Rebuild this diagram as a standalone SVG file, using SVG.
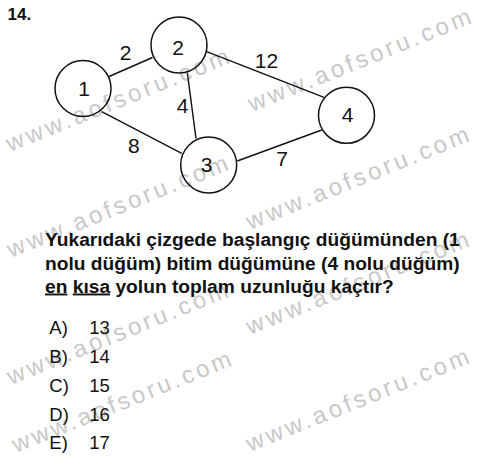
<svg xmlns="http://www.w3.org/2000/svg" width="500" height="457" viewBox="0 0 500 457">
<style>
.wm{font-family:"Liberation Sans",Arial,sans-serif;font-size:24px;fill:#c8c8c8}
.edge{stroke:#111;stroke-width:1.4;fill:none}
.node circle{fill:none;stroke:#111;stroke-width:1.5}
.lbl{font-family:"Liberation Sans",Arial,sans-serif;font-size:21px;fill:#111;text-anchor:middle}
.q{font-family:"Liberation Sans",Arial,sans-serif;font-size:19.2px;font-weight:bold;fill:#111}
.ans{font-family:"Liberation Sans",Arial,sans-serif;font-size:18.5px;fill:#111}
</style>
<rect width="500" height="457" fill="#fff"/>
<g id="watermarks">
<text class="wm" transform="translate(10,152) rotate(-22)" textLength="238" lengthAdjust="spacing">www.aofsoru.com</text>
<text class="wm" transform="translate(252,112) rotate(-22)" textLength="238" lengthAdjust="spacing">www.aofsoru.com</text>
<text class="wm" transform="translate(250,230) rotate(-22)" textLength="238" lengthAdjust="spacing">www.aofsoru.com</text>
<text class="wm" transform="translate(11,258) rotate(-22)" textLength="236" lengthAdjust="spacing">www.aofsoru.com</text>
<text class="wm" transform="translate(11,385) rotate(-22)" textLength="236" lengthAdjust="spacing">www.aofsoru.com</text>
<text class="wm" transform="translate(250,335) rotate(-22)" textLength="238" lengthAdjust="spacing">www.aofsoru.com</text>
<text class="wm" transform="translate(16,453) rotate(-22)" textLength="234" lengthAdjust="spacing">www.aofsoru.com</text>
<text class="wm" transform="translate(250,452) rotate(-22)" textLength="238" lengthAdjust="spacing">www.aofsoru.com</text>
</g>
<text x="7.5" y="20" font-family="Liberation Sans, Arial, sans-serif" font-size="17" font-weight="bold" fill="#111">14.</text>
<g id="connectors">
<line class="edge" x1="109" y1="76.5" x2="152.5" y2="57.5"/>
<line class="edge" x1="101.7" y1="111.7" x2="181.7" y2="153.3"/>
<line class="edge" x1="187.3" y1="72.7" x2="196" y2="138.3"/>
<line class="edge" x1="206.7" y1="51.7" x2="324" y2="97.3"/>
<line class="edge" x1="237.3" y1="161" x2="321.7" y2="130"/>
<text class="lbl" x="125.5" y="60">2</text>
<text class="lbl" x="182.5" y="113.3">4</text>
<text class="lbl" x="133.8" y="153.3">8</text>
<text class="lbl" x="266.5" y="68">12</text>
<text class="lbl" x="282" y="165.5">7</text>
</g>
<g id="node1" class="node"><circle cx="83" cy="88.5" r="28"/><text class="lbl" x="84" y="96.3">1</text></g>
<g id="node2" class="node"><circle cx="179" cy="45" r="28"/><text class="lbl" x="178" y="54.5">2</text></g>
<g id="node3" class="node"><circle cx="208.7" cy="165" r="28"/><text class="lbl" x="206.7" y="171.7">3</text></g>
<g id="node4" class="node"><circle cx="346.5" cy="115.3" r="28"/><text class="lbl" x="347.5" y="121.7">4</text></g>
<text class="q" x="45" y="246">Yukarıdaki çizgede başlangıç düğümünden (1</text>
<text class="q" x="45" y="269.5">nolu düğüm) bitim düğümüne (4 nolu düğüm)</text>
<text class="q" x="45" y="292.5"><tspan text-decoration="underline">en</tspan> <tspan text-decoration="underline">kısa</tspan> yolun toplam uzunluğu kaçtır?</text>
<g class="ans">
<text x="49.3" y="334.3">A)</text><text x="89.3" y="334.3">13</text>
<text x="49.3" y="363">B)</text><text x="89.3" y="363">14</text>
<text x="49.3" y="391.8">C)</text><text x="89.3" y="391.8">15</text>
<text x="49.3" y="420.5">D)</text><text x="89.3" y="420.5">16</text>
<text x="49.3" y="449.3">E)</text><text x="89.3" y="449.3">17</text>
</g>
</svg>
